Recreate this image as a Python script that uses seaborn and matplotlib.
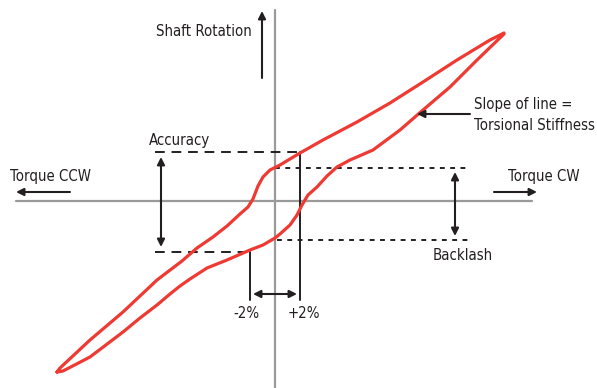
import matplotlib
matplotlib.use("Agg")
import matplotlib.pyplot as plt
from matplotlib import font_manager
import seaborn as sns
import pandas as pd

# hysteresis loop (torque, shaft rotation), origin at the axes crossing
upper_torque = [-218, -215, -185, -152, -135, -118, -93, -78, -62, -48, -35, -27, -22, -17, -12, -5, 5, 25, 48, 82, 115, 148, 182, 215, 229]
upper_rotation = [-172, -168, -140, -112, -96, -80, -61, -48, -37, -26, -14, -7, 1, 14, 23, 30, 35, 47, 60, 78, 97, 118, 140, 160, 167]
lower_torque = [229, 202, 175, 148, 125, 98, 75, 62, 52, 42, 33, 27, 22, 15, 5, 0, -12, -25, -48, -68, -85, -95, -105, -118, -135, -152, -185, -212, -218]
lower_rotation = [166, 140, 113, 90, 70, 50, 40, 33, 24, 13, 5, -5, -15, -25, -34, -38, -45, -50, -60, -68, -79, -86, -94, -105, -118, -132, -157, -171, -172]

accuracy_levels = [48, -52]
backlash_levels = [32, -40]
pct_torque = [-25, 25]
pct_labels = ["-2%", "+2%"]

loop = pd.DataFrame({
    "torque": upper_torque + lower_torque,
    "rotation": upper_rotation + lower_rotation,
})

sns.set_style("white")

# look for a narrow face, the reference uses a condensed sans
narrow = None
for f in font_manager.fontManager.ttflist:
    if f.name == "Liberation Sans Narrow" and f.weight in (400, "normal") and f.style == "normal":
        narrow = f.fname
        break
if narrow is None:
    for f in font_manager.fontManager.ttflist:
        low = f.fname.lower()
        if ("condensed" in low or "narrow" in low) and "bold" not in low and "oblique" not in low \
                and "italic" not in low and "sans" in low and "mono" not in low:
            narrow = f.fname
            break

if narrow:
    fp = font_manager.FontProperties(fname=narrow, size=10.7)
else:
    fp = font_manager.FontProperties(family="Roboto", size=10.5)
plt.rcParams["font.family"] = ["DejaVu Sans"]

ink = "#231f20"
red = "#ee3a33"

fig = plt.figure(figsize=(5.97, 3.88), dpi=100)
ax = fig.add_axes([0, 0, 1, 1])
ax.set_xlim(-275, 322)
ax.set_ylim(-188, 200)
ax.axis("off")

# axes cross
ax.plot([-259, 257], [-1, -1], color="#9a9a9a", lw=1.6, zorder=1)
ax.plot([0, 0], [-188, 190], color="#9a9a9a", lw=1.6, zorder=1)

# dashed guide lines
ax.plot([-120, pct_torque[1]], [accuracy_levels[0]] * 2, color=ink, lw=1.4, dashes=(5, 3.5))
ax.plot([-120, pct_torque[0]], [accuracy_levels[1]] * 2, color=ink, lw=1.4, dashes=(5, 3.5))
ax.plot([0, 192], [backlash_levels[0]] * 2, color=ink, lw=1.4, dashes=(2.5, 2.8))
ax.plot([2, 195], [backlash_levels[1]] * 2, color=ink, lw=1.4, dashes=(2.5, 2.8))

# +/-2% markers
ax.plot([pct_torque[0]] * 2, [accuracy_levels[1], -100], color=ink, lw=1.4)
ax.plot([pct_torque[1]] * 2, [accuracy_levels[0], -100], color=ink, lw=1.4)

sns.lineplot(data=loop, x="torque", y="rotation", sort=False, estimator=None,
             color=red, lw=2.3, ax=ax, zorder=3, solid_joinstyle="round")


def arrow(x0, y0, x1, y1, style="-|>"):
    ax.annotate("", xy=(x1, y1), xytext=(x0, y0),
                arrowprops=dict(arrowstyle=style, color=ink, lw=1.5,
                                mutation_scale=11, shrinkA=0, shrinkB=0))


arrow(-13, 122, -13, 189)
arrow(-114, 43, -114, -47, "<|-|>")
arrow(180, 28, 180, -36, "<|-|>")
arrow(-205, 8, -259, 8)
arrow(219, 8, 262, 8)
arrow(195, 86, 142, 86)
arrow(-22, -94, 22, -94, "<|-|>")

kw = dict(fontproperties=fp, color=ink, va="center")
ax.text(-23, 168, "Shaft Rotation", ha="right", **kw)
ax.text(-95, 60, "Accuracy", ha="center", **kw)
ax.text(-265, 23, "Torque CCW", ha="left", **kw)
ax.text(233, 24, "Torque CW", ha="left", **kw)
ax.text(199, 95, "Slope of line =", ha="left", **kw)
ax.text(199, 75, "Torsional Stiffness", ha="left", **kw)
ax.text(188, -55, "Backlash", ha="center", **kw)
ax.text(pct_torque[0] - 4, -113, pct_labels[0], ha="center", **kw)
ax.text(pct_torque[1] + 4, -113, pct_labels[1], ha="center", **kw)

fig.savefig("out.png", dpi=100)
